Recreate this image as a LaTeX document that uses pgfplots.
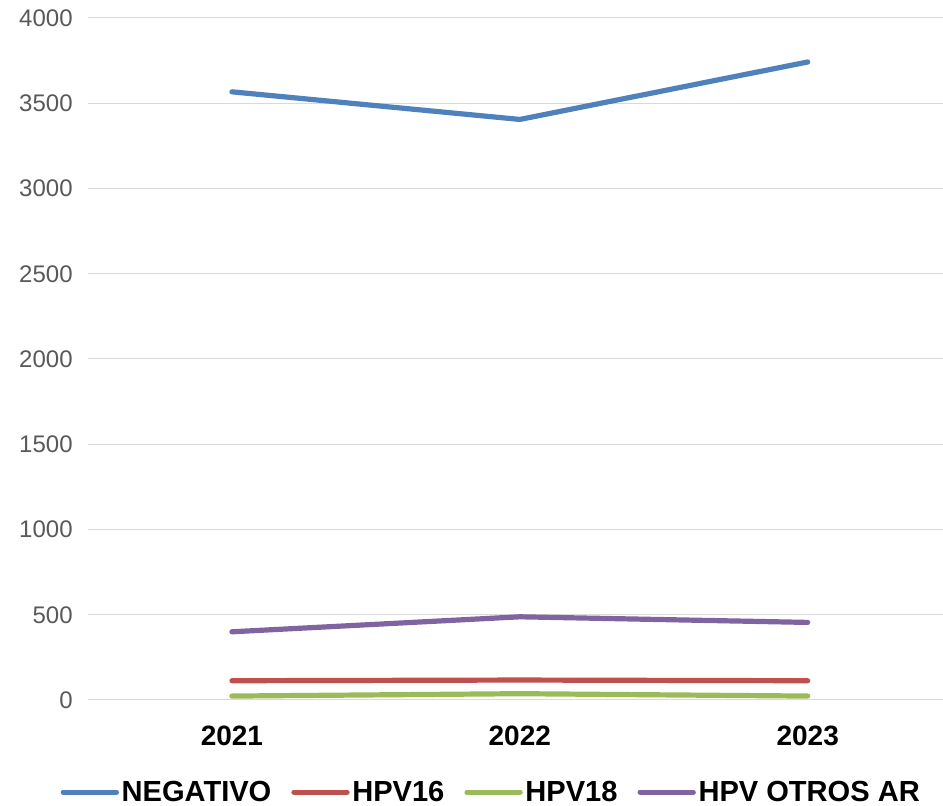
\documentclass[border=0pt]{standalone}
\usepackage{fontspec}
\setmainfont{Liberation Sans}
\usepackage{pgfplots}
\pgfplotsset{compat=1.18}
\definecolor{cneg}{HTML}{4F81BD}
\definecolor{c16}{HTML}{C0504D}
\definecolor{c18}{HTML}{9BBB59}
\definecolor{cotr}{HTML}{8064A2}
\definecolor{cgrid}{HTML}{D9D9D9}
\definecolor{ctick}{HTML}{595959}
\begin{document}
\begin{tikzpicture}
\begin{axis}[
  scale only axis,
  width=641.25pt, height=511.5pt,
  xmin=-0.5, xmax=2.47,
  ymin=0, ymax=4000,
  xtick={0,1,2},
  xticklabels={2021,2022,2023},
  ytick={0,500,...,4000},
  /pgf/number format/assume math mode=true,
  /pgf/number format/1000 sep={},
  ymajorgrids,
  grid style={cgrid, line width=0.75pt},
  major tick length=0pt,
  axis line style={draw=none},
  yticklabel style={font=\fontsize{18}{20}\selectfont, text=ctick, xshift=-8pt},
  xticklabel style={font=\bfseries\fontsize{21}{24}\selectfont, text=black, yshift=-16pt},
  legend style={at={(0.472,-0.135)}, anchor=center, draw=none, fill=none,
    legend columns=4, font=\bfseries\fontsize{21.8}{24}\selectfont,
    /tikz/every even column/.append style={column sep=13pt},
    inner sep=0pt},
  legend image code/.code={\draw[#1, line width=3.75pt, line cap=round] (0pt,0pt) -- (40pt,0pt);},
  every axis plot/.append style={line width=3.9pt, line cap=round, line join=round, mark=none},
]
\coordinate (bl) at (rel axis cs:0,0);
\addplot[cneg] coordinates {(0,3567) (1,3405) (2,3742)};
\addlegendentry{NEGATIVO}
\addplot[c16] coordinates {(0,113) (1,117) (2,113)};
\addlegendentry{HPV16}
\addplot[c18] coordinates {(0,23) (1,37) (2,23)};
\addlegendentry{HPV18}
\addplot[cotr] coordinates {(0,400) (1,488) (2,455)};
\addlegendentry{HPV OTROS AR}
\end{axis}
\pgfresetboundingbox
\path (bl) ++(-66pt,-79.5pt) rectangle ++(707.25pt,604.5pt);
\end{tikzpicture}
\end{document}
